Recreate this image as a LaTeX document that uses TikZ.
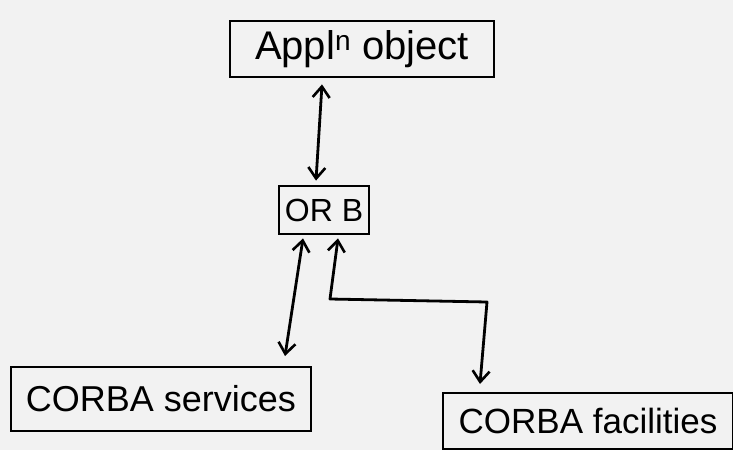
\documentclass[tikz,border=0pt]{standalone}
\usepackage{fontspec}
\setmainfont{Liberation Sans}
\usetikzlibrary{arrows.meta}
\begin{document}
\begin{tikzpicture}[x=1pt,y=-1pt,
  box/.style={draw=black,line width=2.8pt,rectangle,inner sep=0pt,align=center},
  conn/.style={draw=black,line width=2.8pt,line join=round,{Straight Barb[length=11pt,width=17pt,line width=2.6pt]}-{Straight Barb[length=11pt,width=17pt,line width=2.6pt]}}
]
\fill[white!95!black] (0,0) rectangle (733,450);
\useasboundingbox (0,0) rectangle (733,450);
\node[box,minimum width=264pt,minimum height=56pt] (app) at (362,49) {\fontsize{40}{44}\selectfont Appl\textsuperscript{n} object};
\node[box,minimum width=90pt,minimum height=48pt] (orb) at (324,210) {\fontsize{32}{36}\selectfont OR B};
\node[box,minimum width=300pt,minimum height=64pt] (serv) at (161,399) {\fontsize{36}{40}\selectfont CORBA services};
\node[box,minimum width=290pt,minimum height=56pt] (fac) at (588,421) {\fontsize{35}{40}\selectfont CORBA facilities};
\coordinate (sv) at (285,356);
\coordinate (fv) at (480,384);
\coordinate (b1) at (330,299);
\coordinate (b2) at (487,302);
\draw[conn] ([xshift=-40pt,yshift=-6pt]app.south) -- ([xshift=-8pt,yshift=4pt]orb.north);
\draw[conn] ([xshift=-21pt,yshift=-3pt]orb.south) -- (sv);
\draw[conn] ([xshift=14pt,yshift=-3pt]orb.south) -- (b1) -- (b2) -- (fv);
\end{tikzpicture}
\end{document}
